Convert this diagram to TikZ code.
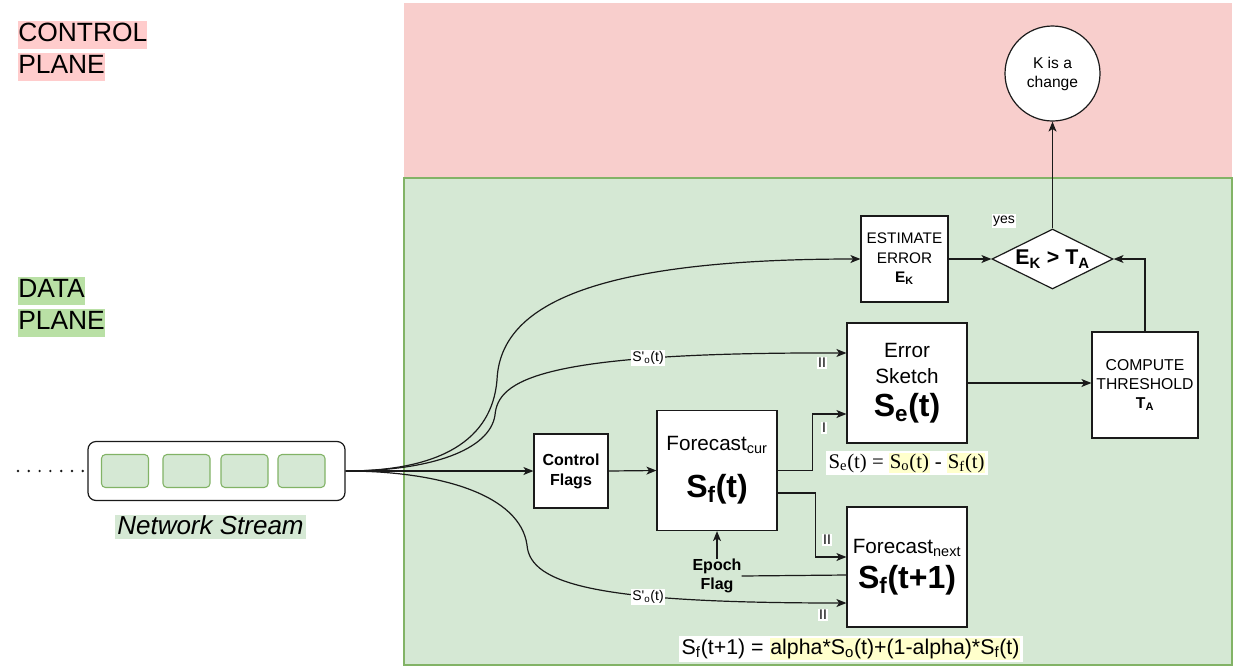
\documentclass[tikz,border=0pt]{standalone}
\usepackage{fontspec}
\setmainfont{Liberation Sans}
\newfontfamily\serifmath{Liberation Serif}
\usetikzlibrary{arrows.meta,shapes.geometric,calc}

\definecolor{ctrlfill}{HTML}{F8CECC}
\definecolor{ctrlhl}{HTML}{FFCCCC}
\definecolor{datafill}{HTML}{D5E8D4}
\definecolor{dataline}{HTML}{82B366}
\definecolor{datahl}{HTML}{B9E0A5}
\definecolor{hlyellow}{HTML}{FFFFCC}
\definecolor{edge}{HTML}{1A1A1A}

\newcommand\fsz[2]{\fontsize{#1}{#2}\selectfont}
\newcommand\hl[1]{\begingroup\setlength\fboxsep{0.6pt}\colorbox{hlyellow}{#1}\endgroup}

\tikzset{
  box/.style={draw=edge, fill=white, line width=0.9pt, inner sep=0pt, align=center},
  arr/.style={draw=edge, line width=0.9pt, -{Stealth[length=7.5pt,width=6pt,inset=2pt]}},
  conn/.style={draw=edge, line width=0.9pt},
  lbl/.style={fill=white, inner sep=1pt, font=\fsz{10.5}{12}},
  planelbl/.style={anchor=west, inner xsep=0pt, inner ysep=0pt, text height=16pt, text depth=5pt, font=\fsz{19.8}{22}},
  cell/.style={draw=dataline, fill=datafill, line width=0.8pt, rounded corners=3pt, minimum width=35.25pt, minimum height=24.75pt},
}

\begin{document}
\begin{tikzpicture}[x=0.75pt,y=-0.75pt]
\useasboundingbox (0,0) rectangle (1235,665);

% plane backgrounds
\fill[ctrlfill] (404,3) rectangle (1232,178);
\filldraw[fill=datafill, draw=dataline, line width=0.8pt] (404,178) rectangle (1232,665);

% plane titles
\node[planelbl, fill=ctrlhl] (cp1) at (18,34.5) {CONTROL};
\node[planelbl, fill=ctrlhl] (cp2) at (18,66.5) {PLANE};
\node[planelbl, fill=datahl] (dp1) at (18,290.5) {DATA};
\node[planelbl, fill=datahl] (dp2) at (18,322.5) {PLANE};

% network stream
\foreach \i in {0,...,6} \fill[edge] ({18+\i*10.8},471) circle (1pt);
\node[draw=edge, fill=white, line width=0.9pt, rounded corners=6pt, minimum width=192.75pt, minimum height=44.25pt] (stream) at (216.5,471) {};
\node[cell] (c1) at (125,471) {};
\node[cell] (c2) at (186.5,471) {};
\node[cell] (c3) at (244.5,471) {};
\node[cell] (c4) at (301.5,471) {};
\node[fill=datafill, inner xsep=2pt, inner ysep=0pt, text height=14.5pt, text depth=3.5pt, font=\fsz{19.5}{21}\itshape] (nslbl) at (210.5,527) {Network Stream};

% processing blocks
\node[box, minimum width=55.5pt, minimum height=55.5pt, font=\fsz{12}{15}\bfseries] (cf) at (571,471) {Control\\Flags};
\node[box, minimum width=90pt, minimum height=90pt, font=\fsz{15.5}{29}] (fc) at (717,470.5)
  {Forecast\textsubscript{cur}\\[6pt]\fsz{24}{29}\bfseries S\textsubscript{f}(t)};
\node[box, minimum width=90pt, minimum height=90pt, font=\fsz{15.5}{19.5}] (es) at (907,383)
  {Error\\Sketch\\[5pt]\fsz{24}{29}\bfseries S\textsubscript{e}(t)};
\node[box, minimum width=90pt, minimum height=90pt, font=\fsz{15.5}{23.5}] (fn) at (907,567)
  {Forecast\textsubscript{next}\\[3pt]\fsz{24}{29}\bfseries S\textsubscript{f}(t+1)};
\node[box, minimum width=65.25pt, minimum height=64.5pt, font=\fsz{11.5}{14.4}] (est) at (904.5,259)
  {ESTIMATE\\ERROR\\\textbf{E\textsubscript{K}}};
\node[box, shape=diamond, aspect=2, minimum width=90.75pt, minimum height=45pt, font=\fsz{16}{18}\bfseries] (dia) at (1052.5,259)
  {E\textsubscript{K} > T\textsubscript{A}};
\node[box, minimum width=79.5pt, minimum height=79.5pt, font=\fsz{11.8}{14.4}] (thr) at (1145,385)
  {COMPUTE\\THRESHOLD\\\textbf{T\textsubscript{A}}};
\node[box, shape=circle, minimum size=71.25pt, font=\fsz{11.7}{14.3}] (circ) at (1052.5,73.5) {K is a\\change};
\node[align=center, inner sep=0pt, font=\fsz{12}{14.3}\bfseries] (ep) at (717,576) {Epoch\\Flag};

% formulas
\node[fill=white, inner xsep=2pt, inner ysep=1.5pt, font=\serifmath\fsz{15.6}{17}] (sef) at (907,463)
  {S\textsubscript{e}(t) = \hl{S\textsubscript{o}(t)} - \hl{S\textsubscript{f}(t)}};
\node[fill=white, inner xsep=2pt, inner ysep=1.5pt, font=\fsz{16}{18}] (sfn) at (851,649)
  {S\textsubscript{f}(t+1) = \hl{alpha*S\textsubscript{o}(t)+(1-alpha)*S\textsubscript{f}(t)}};

% connector end points on block sides
\coordinate (esin1) at ($(es.west)+(0,-30)$);
\coordinate (esin2) at ($(es.west)+(0,31)$);
\coordinate (fcout2) at ($(fc.east)+(0,22.5)$);
\coordinate (fnin1) at ($(fn.west)+(0,-10)$);
\coordinate (fnin2) at ($(fn.west)+(0,8)$);
\coordinate (fnin3) at ($(fn.west)+(0,36)$);

% stream fan-out
\draw[arr] (stream.east) -- (cf.west);
\draw[arr] (stream.east) .. controls +(95,0) and (492,440) .. (497,380)
  .. controls (500,310) and (580,259) .. (est.west);
\draw[arr] (stream.east) .. controls +(85,0) and (490,450) .. (495,415)
  .. controls (498,380) and (540,352) .. (esin1);
\draw[arr] (stream.east) .. controls +(95,0) and (520,495) .. (527,545)
  .. controls (530,585) and (600,603) .. (fnin3);

% block links
\draw[arr] (cf.east) -- (fc.west);
\draw[arr] (fc.east) -- ++(35,0) |- (esin2);
\draw[arr] (fcout2) -- ++(38,0) |- (fnin1);
\draw[arr] (ep.north) -- (fc.south);
\draw[conn] (ep.east) -- (fnin2);
\draw[arr] (es.east) -- (es.east -| thr.west);
\draw[arr] (est.east) -- (dia.west);
\draw[arr] (thr.north) |- (dia.east);
\draw[arr] (dia.north) -- (circ.south);

% edge labels
\node[lbl] (so1) at (648,358) {S\textquotesingle\textsubscript{o}(t)};
\node[lbl] (so2) at (648,597) {S\textquotesingle\textsubscript{o}(t)};
\node[lbl] (m1) at (822,363) {II};
\node[lbl] (m2) at (824,428) {I};
\node[lbl] (m3) at (827,540) {II};
\node[lbl] (m4) at (823,615) {II};
\node[lbl] (yes) at (1004,221) {yes};
\end{tikzpicture}
\end{document}
